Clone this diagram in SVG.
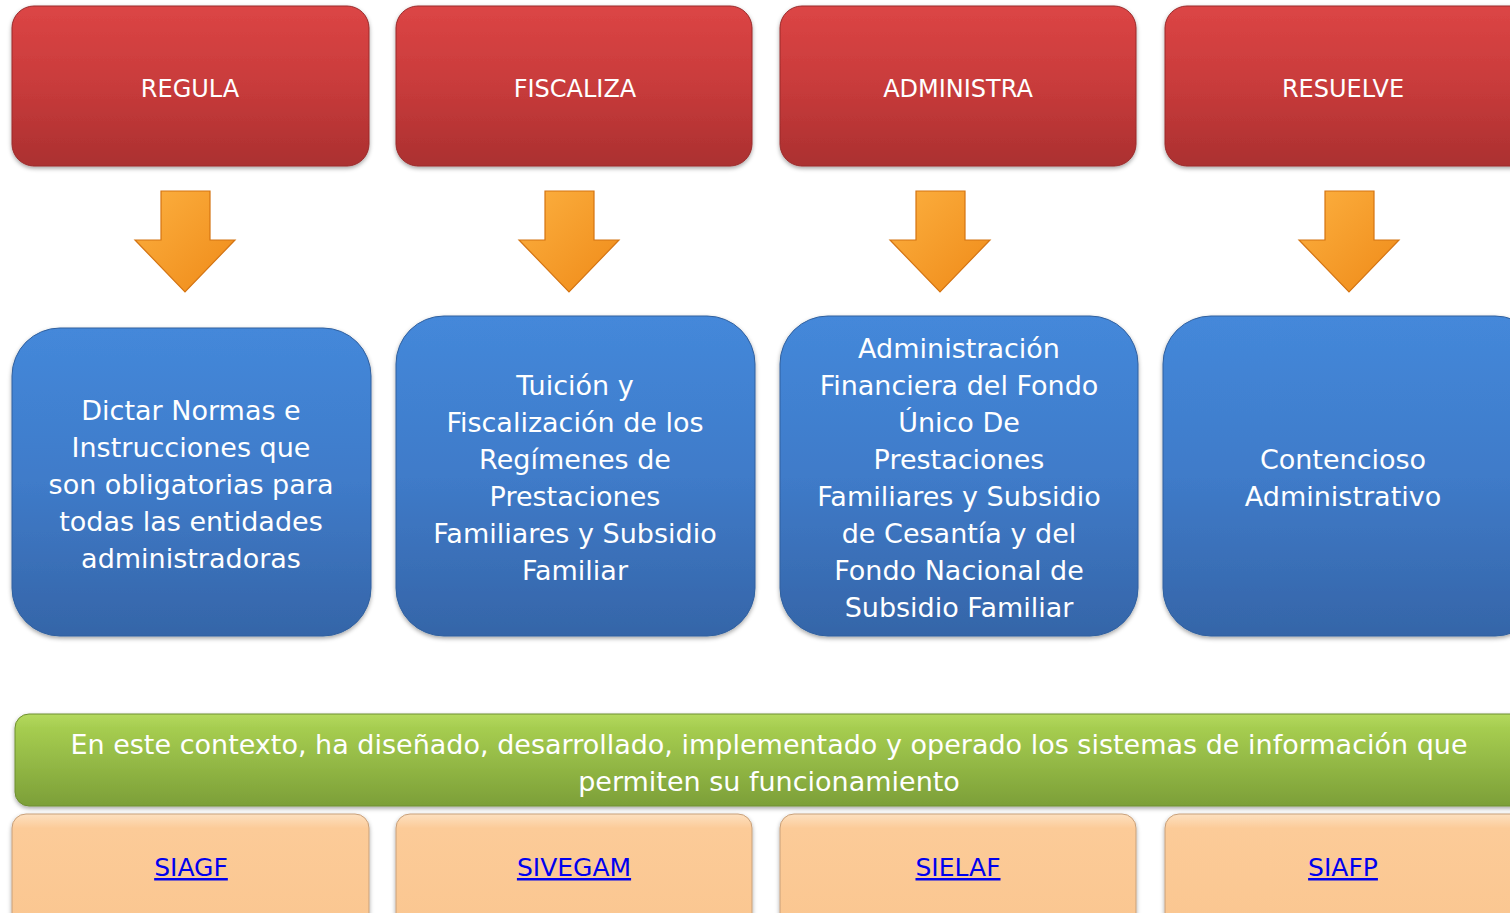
<svg xmlns="http://www.w3.org/2000/svg" xmlns:xlink="http://www.w3.org/1999/xlink" width="1510" height="913" viewBox="0 0 1510 913">
<defs>
<linearGradient id="gRed" x1="0" y1="0" x2="0" y2="1"><stop offset="0" stop-color="#dc4545"/><stop offset="0.5" stop-color="#c83b3b"/><stop offset="1" stop-color="#ab3030"/></linearGradient>
<linearGradient id="gBlue" x1="0" y1="0" x2="0" y2="1"><stop offset="0" stop-color="#4488da"/><stop offset="0.5" stop-color="#3f7bc9"/><stop offset="1" stop-color="#3565a8"/></linearGradient>
<linearGradient id="gGreen" x1="0" y1="0" x2="0" y2="1"><stop offset="0" stop-color="#b4d95e"/><stop offset="0.15" stop-color="#a6cd50"/><stop offset="1" stop-color="#7c9f38"/></linearGradient>
<linearGradient id="gPeach" x1="0" y1="0" x2="0" y2="1"><stop offset="0" stop-color="#fde0c0"/><stop offset="0.12" stop-color="#fccb98"/><stop offset="1" stop-color="#fac690"/></linearGradient>
<linearGradient id="gArrow" x1="0" y1="0" x2="1" y2="1"><stop offset="0" stop-color="#fcb040"/><stop offset="1" stop-color="#ef8a18"/></linearGradient>
<filter id="sh" x="-5%" y="-5%" width="110%" height="115%"><feDropShadow dx="0" dy="2" stdDeviation="2" flood-color="#000" flood-opacity="0.35"/></filter>
<path id="arrow" d="M-24,0 H25 V49 H50 L0,101 L-50,49 H-24 Z"/>
</defs>
<style>
.red{fill:url(#gRed);stroke:#9a2a2a;stroke-width:1;filter:url(#sh)}
.blue{fill:url(#gBlue);stroke:#30609f;stroke-width:1;filter:url(#sh)}
.green{fill:url(#gGreen);stroke:#6f8f30;stroke-width:1;filter:url(#sh)}
.peach{fill:url(#gPeach);stroke:#c8a07a;stroke-width:1;filter:url(#sh)}
.arr{fill:url(#gArrow);stroke:#d47412;stroke-width:1.2}
text{font-family:"DejaVu Sans","Verdana",sans-serif;fill:#fff;text-anchor:middle}
.t1{font-size:24px}
.t2{font-size:27px}
.lnk{font-size:25px;fill:#0000ee;text-decoration:underline}
</style>
<rect width="1510" height="913" fill="#fff"/>

<g id="connectors">
<use xlink:href="#arrow" class="arr" transform="translate(185,191)"/>
<use xlink:href="#arrow" class="arr" transform="translate(569,191)"/>
<use xlink:href="#arrow" class="arr" transform="translate(940,191)"/>
<use xlink:href="#arrow" class="arr" transform="translate(1349,191)"/>
</g>

<g id="regula"><rect class="red" x="12" y="6" width="357" height="160" rx="22"/><text class="t1" x="190" y="97">REGULA</text></g>
<g id="fiscaliza"><rect class="red" x="396" y="6" width="356" height="160" rx="22"/><text class="t1" x="575" y="97">FISCALIZA</text></g>
<g id="administra"><rect class="red" x="780" y="6" width="356" height="160" rx="22"/><text class="t1" x="958" y="97">ADMINISTRA</text></g>
<g id="resuelve"><rect class="red" x="1165" y="6" width="370" height="160" rx="22"/><text class="t1" x="1343" y="97">RESUELVE</text></g>

<g id="dictar"><rect class="blue" x="12" y="328" width="359" height="308" rx="48"/>
<text class="t2" x="191"><tspan x="191" y="420">Dictar Normas e</tspan><tspan x="191" y="457">Instrucciones que</tspan><tspan x="191" y="494">son obligatorias para</tspan><tspan x="191" y="531">todas las entidades</tspan><tspan x="191" y="568">administradoras</tspan></text></g>
<g id="tuicion"><rect class="blue" x="396" y="316" width="359" height="320" rx="48"/>
<text class="t2" x="575"><tspan x="575" y="395">Tuición y</tspan><tspan x="575" y="432">Fiscalización de los</tspan><tspan x="575" y="469">Regímenes de</tspan><tspan x="575" y="506">Prestaciones</tspan><tspan x="575" y="543">Familiares y Subsidio</tspan><tspan x="575" y="580">Familiar</tspan></text></g>
<g id="adminfin"><rect class="blue" x="780" y="316" width="358" height="320" rx="48"/>
<text class="t2" x="959"><tspan x="959" y="358">Administración</tspan><tspan x="959" y="395">Financiera del Fondo</tspan><tspan x="959" y="432">Único De</tspan><tspan x="959" y="469">Prestaciones</tspan><tspan x="959" y="506">Familiares y Subsidio</tspan><tspan x="959" y="543">de Cesantía y del</tspan><tspan x="959" y="580">Fondo Nacional de</tspan><tspan x="959" y="617">Subsidio Familiar</tspan></text></g>
<g id="contencioso"><rect class="blue" x="1163" y="316" width="380" height="320" rx="48"/>
<text class="t2" x="1343"><tspan x="1343" y="469">Contencioso</tspan><tspan x="1343" y="506">Administrativo</tspan></text></g>

<g id="contexto"><rect class="green" x="15" y="714" width="1520" height="92" rx="14"/>
<text class="t2" x="769"><tspan x="769" y="754">En este contexto, ha diseñado, desarrollado, implementado y operado los sistemas de información que</tspan><tspan x="769" y="791">permiten su funcionamiento</tspan></text></g>

<g id="siagf"><rect class="peach" x="12" y="814" width="357" height="120" rx="14"/><text class="lnk" x="191" y="876">SIAGF</text></g>
<g id="sivegam"><rect class="peach" x="396" y="814" width="356" height="120" rx="14"/><text class="lnk" x="574" y="876">SIVEGAM</text></g>
<g id="sielaf"><rect class="peach" x="780" y="814" width="356" height="120" rx="14"/><text class="lnk" x="958" y="876">SIELAF</text></g>
<g id="siafp"><rect class="peach" x="1165" y="814" width="370" height="120" rx="14"/><text class="lnk" x="1343" y="876">SIAFP</text></g>
</svg>
